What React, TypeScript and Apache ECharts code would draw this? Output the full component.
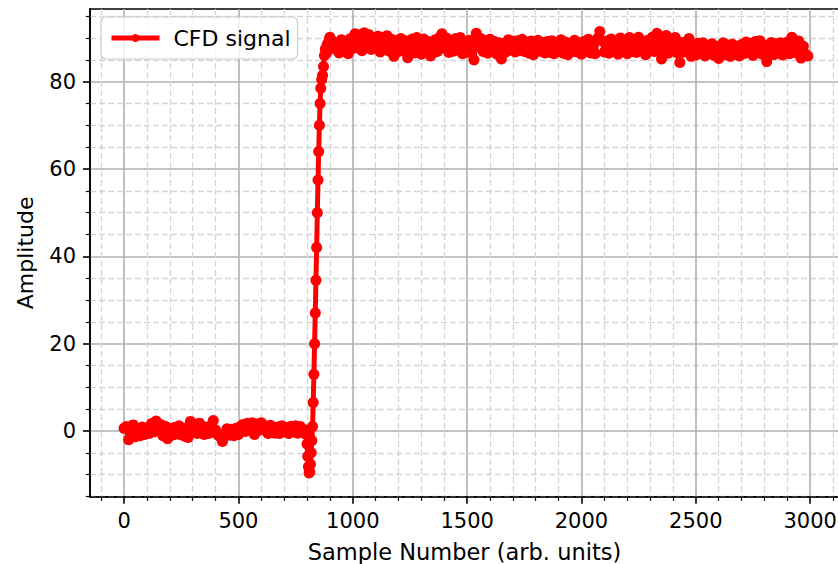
import React, { useEffect, useRef } from "react";
import * as echarts from "echarts";

// ---- data ----
const seriesName = "CFD signal";
const xTitle = "Sample Number (arb. units)";
const yTitle = "Amplitude";
const xTicks = [0, 500, 1000, 1500, 2000, 2500, 3000];
const yTicks = [0, 20, 40, 60, 80];

// baseline: one reading every 10 samples, starting at sample 0
const baselineStart = 0;
const baselineStep = 10;
const baselineValues = [
  0.6, 1.0, -2.0, -0.8, 1.4, -1.3, 0.5, -1.1, 0.9, -0.8,
  0.5, -0.6, 1.7, -0.2, 2.3, 0.1, 1.5, -1.1, 1.1, -1.8,
  0.6, -1.0, 0.8, -0.7, 1.2, -0.9, 0.6, -1.3, -1.5, 2.2,
  0.6, 1.5, -0.6, 1.8, 0.0, -0.8, 0.9, -0.6, 1.2, 2.4,
  0.2, -0.9, -1.3, -2.4, -0.7, 0.5, -1.0, 0.4, -1.1, 0.6,
  -0.8, 1.1, 1.5, -0.1, 1.8, 0.2, 1.9, -0.8, 1.6, 0.2,
  1.9, 1.3, 0.0, -0.6, 1.3, 0.1, -0.5, 0.9, -0.6, 1.2,
  -0.1, 0.8, -0.6, 1.1, -0.2, 1.2, -0.5, 1.0, 0.1,
];

// transition: undershoot and rising edge
const transitionSamples = [
  790, 796, 800, 803, 806, 809, 812, 815, 818, 821,
  824, 827, 830, 833, 836, 839, 842, 845, 848, 851,
  854, 857, 860, 864, 868, 872, 876, 880, 884, 888,
  892, 896, 900, 905, 910, 915, 920, 925,
];
const transitionValues = [
  0.3, -0.8, -3.0, -5.8, -8.2, -9.6, -9.4, -7.6, -5.0, -2.2,
  1.0, 6.5, 13, 20, 27, 34.5, 42, 50, 57.5, 64,
  70, 75, 78.5, 80.5, 81.5, 83.5, 86, 87.5, 86.5, 88.5,
  87.2, 89.5, 90.2, 88.4, 89.3, 87.6, 88.8, 87.8,
];

// plateau: one reading every 10 samples, starting at sample 930
const plateauStart = 930;
const plateauStep = 10;
const plateauValues = [
  88.9, 86.6, 89.6, 87.0, 89.3, 86.4, 89.9, 87.6, 91.0, 87.8,
  90.7, 87.1, 91.2, 88.0, 90.8, 87.4, 90.1, 87.6, 90.4, 86.8,
  90.2, 87.7, 90.5, 87.0, 89.7, 85.8, 89.3, 86.9, 89.9, 87.2,
  89.4, 85.5, 88.9, 89.8, 86.6, 90.1, 87.4, 86.3, 89.8, 86.9,
  89.2, 85.9, 86.6, 89.6, 86.9, 90.2, 91.0, 87.7, 90.0, 86.7,
  89.3, 87.0, 89.9, 87.4, 90.1, 86.4, 89.0, 86.8, 89.5, 86.5,
  85.0, 91.1, 88.0, 89.9, 86.9, 89.4, 86.5, 89.7, 87.2, 89.2,
  86.3, 88.9, 85.2, 88.7, 86.8, 89.6, 87.3, 89.3, 86.8, 89.4,
  87.2, 89.7, 86.9, 89.1, 86.5, 89.3, 86.2, 87.0, 89.5, 87.0,
  89.0, 86.6, 89.2, 86.7, 89.4, 86.4, 88.8, 86.9, 89.6, 86.5,
  89.1, 86.2, 88.6, 86.9, 89.5, 86.8, 88.9, 86.3, 89.2, 87.0,
  89.7, 86.6, 89.0, 86.4, 89.9, 91.5, 89.4, 86.8, 89.3, 86.5,
  89.8, 87.1, 89.1, 86.3, 90.0, 87.3, 88.8, 86.4, 90.1, 86.9,
  89.4, 86.7, 90.2, 87.2, 89.0, 86.2, 89.5, 87.0, 90.2, 86.9,
  91.1, 89.9, 85.2, 89.6, 90.6, 86.5, 89.8, 87.4, 90.1, 86.6,
  84.4, 89.0, 86.8, 89.2, 89.9, 85.8, 88.3, 86.1, 88.8, 86.5,
  88.9, 85.9, 88.2, 86.4, 88.7, 86.0, 88.1, 85.3, 87.8, 88.9,
  86.2, 88.4, 85.8, 88.6, 86.3, 88.0, 85.9, 88.5, 86.4, 89.1,
  86.7, 88.8, 86.0, 89.2, 86.9, 89.4, 86.3, 88.4, 84.6, 88.1,
  89.0, 86.2, 88.7, 86.5, 88.9, 86.1, 88.3, 89.1, 86.4, 90.2,
  88.6, 86.6, 89.3, 85.4, 88.1, 86.3, 85.9,
];

const FONT = "DejaVu Sans";

function buildPoints(): [number, number][] {
  const pts: [number, number][] = [];
  baselineValues.forEach((v, i) => pts.push([baselineStart + i * baselineStep, v]));
  transitionSamples.forEach((s, i) => pts.push([s, transitionValues[i]]));
  plateauValues.forEach((v, i) => pts.push([plateauStart + i * plateauStep, v]));
  return pts;
}

export default function App() {
  const ref = useRef<HTMLDivElement>(null);

  useEffect(() => {
    if (!ref.current) return;
    const chart = echarts.init(ref.current, undefined, { renderer: "svg" });
    const points = buildPoints();
    const option: any = {
      animation: false,
      grid: {
        left: 90,
        top: 9,
        width: 749,
        height: 487.7,
        show: true,
        borderColor: "#000",
        borderWidth: 1.6,
        backgroundColor: "transparent",
        containLabel: false,
        outerBoundsMode: "none",
      },
      legend: {
        show: true,
        left: 101,
        top: 17,
        itemWidth: 48,
        itemHeight: 10,
        padding: [10, 7, 10, 8],
        backgroundColor: "rgba(255,255,255,0.8)",
        borderColor: "#cccccc",
        borderWidth: 1.2,
        borderRadius: 5,
        selectedMode: false,
        textStyle: { fontFamily: FONT, fontSize: 22, color: "#000", padding: [0, 0, 0, 9] },
        lineStyle: { width: 5 },
        itemStyle: { borderWidth: 0 },
        data: [seriesName],
      },
      xAxis: {
        type: "value",
        min: -149,
        max: 3126,
        minInterval: 500,
        maxInterval: 500,
        name: xTitle,
        nameLocation: "middle",
        nameGap: 44,
        nameTextStyle: { fontFamily: FONT, fontSize: 22.5, color: "#000" },
        axisLine: { show: true, onZero: false, lineStyle: { color: "#000", width: 1.6 } },
        axisTick: { show: true, length: 7, customValues: xTicks, lineStyle: { color: "#000", width: 1.6 } },
        axisLabel: {
          customValues: xTicks,
          margin: 14,
          fontFamily: FONT,
          fontSize: 21,
          color: "#000",
          formatter: (v: number) => String(v),
        },
        minorTick: { show: true, splitNumber: 5, length: 4.2, lineStyle: { color: "#000", width: 1.2 } },
        splitLine: { show: true, lineStyle: { color: "#b0b0b0", width: 1.6 } },
        minorSplitLine: { show: true, lineStyle: { color: "#d5d5d5", width: 1.3, type: [6, 3] } },
      },
      yAxis: {
        type: "value",
        min: -15.05,
        max: 96.65,
        minInterval: 20,
        maxInterval: 20,
        name: yTitle,
        nameLocation: "middle",
        nameGap: 54,
        nameTextStyle: { fontFamily: FONT, fontSize: 22, color: "#000" },
        axisLine: { show: true, onZero: false, lineStyle: { color: "#000", width: 1.6 } },
        axisTick: { show: true, length: 7, customValues: yTicks, lineStyle: { color: "#000", width: 1.6 } },
        axisLabel: {
          customValues: yTicks,
          margin: 14,
          fontFamily: FONT,
          fontSize: 21,
          color: "#000",
          formatter: (v: number) => String(v),
        },
        minorTick: { show: true, splitNumber: 4, length: 4.2, lineStyle: { color: "#000", width: 1.2 } },
        splitLine: { show: true, lineStyle: { color: "#b0b0b0", width: 1.6 } },
        minorSplitLine: { show: true, lineStyle: { color: "#d5d5d5", width: 1.3, type: [6, 3] } },
      },
      series: [
        {
          type: "line",
          name: seriesName,
          data: points,
          symbol: "circle",
          symbolSize: 11,
          showSymbol: true,
          showAllSymbol: true,
          lineStyle: { color: "#ff0000", width: 5 },
          itemStyle: { color: "#ff0000", borderWidth: 0 },
          emphasis: { disabled: true },
          clip: true,
          z: 3,
        },
      ],
    };
    chart.setOption(option);
    return () => chart.dispose();
  }, []);

  return (
    <div
      ref={ref}
      style={{ position: "absolute", left: 0, top: 0, width: 838, height: 564 }}
    />
  );
}
